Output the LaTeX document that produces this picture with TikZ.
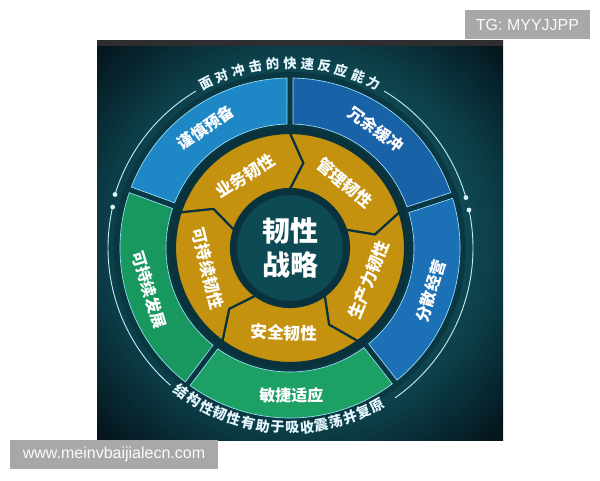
\documentclass[tikz,border=0pt]{standalone}
\usepackage{fontspec}
\setmainfont{Liberation Sans}
\newfontfamily\cjk{Noto Sans CJK SC}
\definecolor{bgteal}{RGB}{18,84,92}
\definecolor{bgmid}{RGB}{12,62,72}
\definecolor{bgdark}{RGB}{5,22,30}
\definecolor{bandgray}{RGB}{46,46,48}
\definecolor{ringdark}{RGB}{9,50,60}
\definecolor{ringhalo}{RGB}{10,56,66}
\definecolor{coreteal}{RGB}{14,74,84}
\definecolor{goldseg}{RGB}{196,146,14}
\definecolor{bluelight}{RGB}{30,136,198}
\definecolor{bluedeep}{RGB}{26,98,168}
\definecolor{bluemid}{RGB}{27,112,182}
\definecolor{greenseg}{RGB}{24,152,94}
\definecolor{greenlight}{RGB}{28,160,100}
\definecolor{markgray}{RGB}{168,168,168}
\pgfdeclareradialshading{backglow}{\pgfpoint{0bp}{0bp}}{color(0bp)=(bgteal);
  color(16bp)=(bgteal); color(24bp)=(bgmid); color(34bp)=(bgdark); color(50bp)=(bgdark)}

\begin{document}
\begin{tikzpicture}[x=0.75pt,y=0.75pt,
    outerseg/.style={draw=white!60!cyan, line width=0.5pt},
    goldpart/.style={fill=goldseg, draw=ringdark, line width=1.6pt, line join=round},
    ringlabel/.style={text=white, font=\cjk\bfseries\fontsize{12}{12}\selectfont},
    goldlabel/.style={text=white, font=\cjk\bfseries\fontsize{12.5}{13}\selectfont},
    arctext/.style={text=white!90!cyan, font=\cjk\bfseries\fontsize{10}{10}\selectfont, inner sep=0pt},
    orbit/.style={draw=white!75!cyan, line width=0.7pt},
    orbitdot/.style={circle, fill=white!85!cyan, inner sep=0pt, minimum size=3.6pt},
    markbox/.style={fill=markgray, text=white!96!gray, font=\fontsize{12}{12}\selectfont, inner sep=0pt}]
  \useasboundingbox (0,0) rectangle (600,480);

  % backdrop
  \shade[shading=backglow] (97,40) rectangle (503,440);
  \fill[bandgray] (97,434) rectangle (503,440);

  \begin{scope}[shift={(290,232)}]
    % outer ring
    \fill[ringhalo] (0,0) circle[radius=176];
    \foreach \a/\b/\col/\lab/\rot [count=\i] in {160/90/bluelight/谨慎预备/35,
        90/18/bluedeep/冗余缓冲/-36, 18/-52/bluemid/分散经营/73,
        -52/-127/greenlight/敏捷适应/0, 233/160/greenseg/可持续发展/-73} {
      \filldraw[outerseg, fill=\col] ({\a-1}:170) arc[start angle={\a-1}, end angle={\b+1}, radius=170]
        -- ({\b+1.4}:124) arc[start angle={\b+1.4}, end angle={\a-1.4}, radius=124] -- cycle;
      \node[ringlabel, rotate=\rot] (ring-\i) at ({(\a+\b)/2}:147) {\lab};
    }

    % gold ring
    \fill[ringdark] (0,0) circle[radius=121];
    \foreach \a/\lab/\rot [count=\i] in {162/业务韧性/32, 90/管理韧性/-40,
        18/生产力韧性/68, -54/安全韧性/-2, -126/可持续韧性/-76} {
      \pgfmathsetmacro\b{\a-72}
      \filldraw[goldpart] (\a:115) arc[start angle=\a, end angle=\b, radius=115]
        -- ({\b-9}:86) -- (\b:59) arc[start angle=\b, end angle=\a, radius=59]
        -- ({\a-9}:86) -- cycle;
      \node[goldlabel, rotate=\rot] (gold-\i) at ({\a-40}:85) {\lab};
    }
    \filldraw[fill=coreteal, draw=ringdark, line width=1.5pt] (0,0) circle[radius=54];
    \node[text=white, align=center, font=\cjk\bfseries\fontsize{21}{25.5}\selectfont] (core) at (0,0) {韧性\\战略};

    % arc captions
    \foreach \c [count=\i] in {面,对,冲,击,的,快,速,反,应,能,力} {
      \pgfmathsetmacro\t{117-(\i-1)*5.4}
      \node[arctext, rotate=\t-90] (top-\i) at (\t:185) {\c};
    }
    \foreach \c [count=\i] in {结,构,性,韧,性,有,助,于,吸,收,震,荡,并,复,原} {
      \pgfmathsetmacro\t{-127+(\i-1)*4.714}
      \node[arctext, rotate=\t+90, font=\cjk\bfseries\fontsize{10.5}{10.5}\selectfont] (bot-\i) at (\t:180) {\c};
    }

    % orbit lines
    \draw[orbit] (121:183) arc[start angle=121, end angle=163, radius=183];
    \draw[orbit] (59:183) arc[start angle=59, end angle=16, radius=183];
    \draw[orbit] (167:182) arc[start angle=167, end angle=229, radius=182];
    \draw[orbit] (12:183) arc[start angle=12, end angle=-55, radius=183];
    \node[orbitdot] (dot-ul) at (163:183) {};
    \node[orbitdot] (dot-ll) at (167:182) {};
    \node[orbitdot] (dot-ur) at (16:183) {};
    \node[orbitdot] (dot-lr) at (12:183) {};
  \end{scope}

  % watermarks
  \node[markbox, minimum width=93.75pt, minimum height=21.75pt] (tg) at (527.5,455.5) {TG: MYYJJPP};
  \node[markbox, minimum width=156pt, minimum height=21.75pt] (url) at (114,25.5) {www.meinvbaijialecn.com};
\end{tikzpicture}
\end{document}
